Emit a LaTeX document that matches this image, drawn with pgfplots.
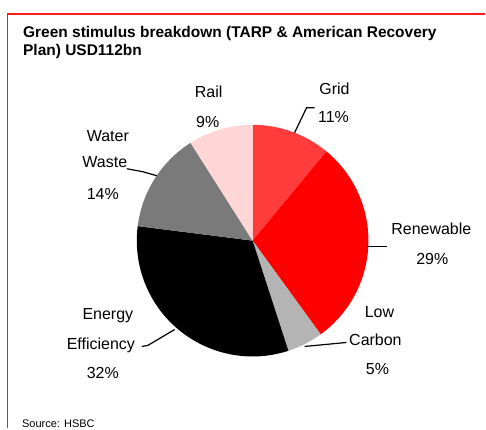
\documentclass[border=0pt]{standalone}
\usepackage{fontspec}
\setmainfont{Liberation Sans}
\usepackage{pgfplots}
\usepackage{pgfplotstable}
\pgfplotsset{compat=1.18}

\definecolor{gridred}{HTML}{FF3C3C}
\definecolor{renewred}{HTML}{FF0000}
\definecolor{lowgray}{HTML}{B4B4B4}
\definecolor{effblack}{HTML}{000000}
\definecolor{watergray}{HTML}{7A7A7A}
\definecolor{railpink}{HTML}{FFD6D6}
\definecolor{framered}{HTML}{FF1A1A}

\tikzset{
  lbl/.style={anchor=base, font=\fontsize{16}{19}\selectfont, inner sep=0pt},
  lead/.style={line width=1.2pt, black},
}

% Shares of the USD112bn green stimulus, clockwise from 12 o'clock
\pgfplotstableread{
sector share colour
Grid 11 gridred
Renewable 29 renewred
LowCarbon 5 lowgray
EnergyEfficiency 32 effblack
WaterWaste 14 watergray
Rail 9 railpink
}\stimulus

\begin{document}
\begin{tikzpicture}
\begin{axis}[
  width=486pt, height=429pt, scale only axis,
  xmin=0, xmax=486, ymin=0, ymax=429, y dir=reverse,
  hide axis, clip=false,
]
% keep the full exhibit area as the picture's extent
\path (axis cs:0,0) rectangle (axis cs:486,429);

% exhibit frame
\draw[framered, line width=1.5pt] (axis cs:7.5,429) -- (axis cs:7.5,14) -- (axis cs:486,14);

% title
\node[anchor=base west, inner sep=0pt, font=\bfseries\fontsize{15.5}{18}\selectfont]
  at (axis cs:23,38) {Green stimulus breakdown (TARP \& American Recovery};
\node[anchor=base west, inner sep=0pt, font=\bfseries\fontsize{15.5}{18}\selectfont]
  at (axis cs:23,56) {Plan) USD112bn};

% pie slices
\pgfmathsetmacro\startang{90}
\pgfplotstablegetrowsof{\stimulus}
\pgfmathtruncatemacro\lastrow{\pgfplotsretval-1}
\pgfplotsforeachungrouped \r in {0,...,\lastrow}{%
  \pgfplotstablegetelem{\r}{share}\of\stimulus
  \let\slicesh\pgfplotsretval
  \pgfplotstablegetelem{\r}{colour}\of\stimulus
  \let\slicecol\pgfplotsretval
  \pgfmathsetmacro\endang{\startang-3.6*\slicesh}%
  \edef\slice{\noexpand\fill[\slicecol] (axis cs:253,241) -- ++(\startang:116pt)
    arc[start angle=\startang, end angle=\endang, radius=116pt] -- cycle;}%
  \slice
  \global\let\startang\endang
}

% leader lines
\draw[lead] (axis cs:315,108) -- (axis cs:307,108) -- (axis cs:295,133);
\draw[lead] (axis cs:368,247) -- (axis cs:388,247);
\draw[lead] (axis cs:305,347) -- (axis cs:347,343);
\draw[lead] (axis cs:142,347) -- (axis cs:148,346) -- (axis cs:175,330);
\draw[lead] (axis cs:127,169) -- (axis cs:143,172) -- (axis cs:157,176);

% labels
\node[lbl] at (axis cs:209,98) {Rail};
\node[lbl] at (axis cs:208,128) {9\%};
\node[lbl] at (axis cs:335,95) {Grid};
\node[lbl] at (axis cs:334,123) {11\%};
\node[lbl] at (axis cs:108,142) {Water};
\node[lbl] at (axis cs:105,168) {Waste};
\node[lbl] at (axis cs:103,200) {14\%};
\node[lbl] at (axis cs:432,235) {Renewable};
\node[lbl] at (axis cs:433,265) {29\%};
\node[lbl] at (axis cs:380,318) {Low};
\node[lbl] at (axis cs:376,346) {Carbon};
\node[lbl] at (axis cs:378,375) {5\%};
\node[lbl] at (axis cs:108,320) {Energy};
\node[lbl] at (axis cs:101,350) {Efficiency};
\node[lbl] at (axis cs:103,379) {32\%};

% source line
\node[anchor=base west, inner sep=0pt, font=\fontsize{11}{13}\selectfont]
  at (axis cs:22,428) {Source: HSBC};
\end{axis}
\end{tikzpicture}
\end{document}
